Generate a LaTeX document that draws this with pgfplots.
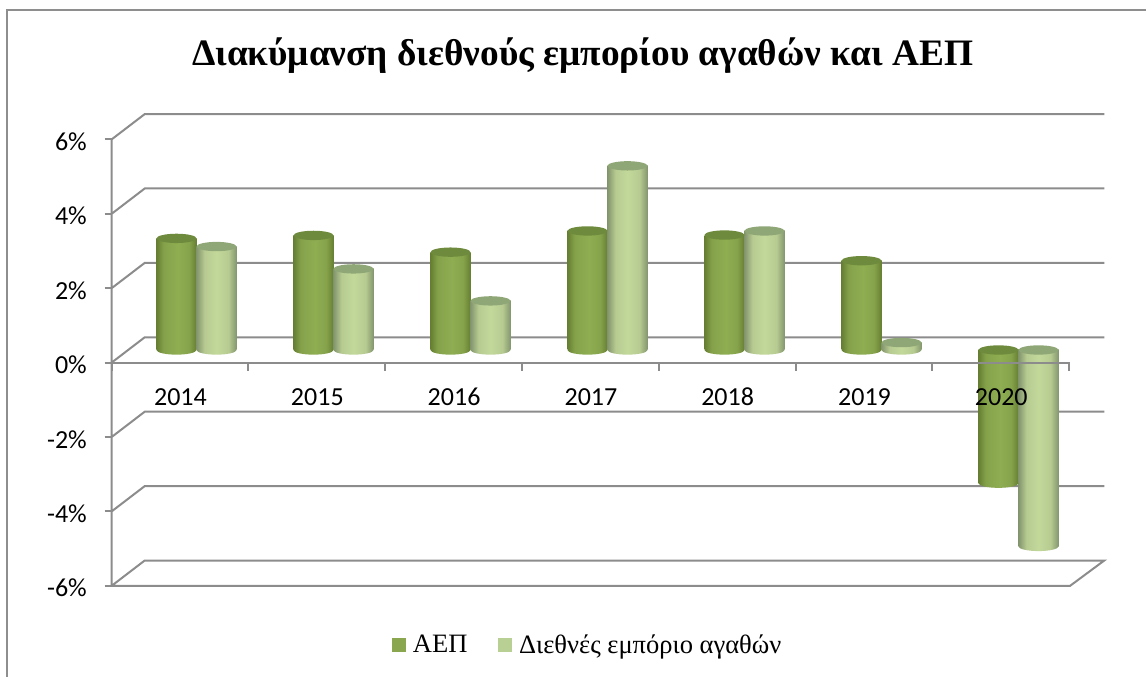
\documentclass[border=0pt]{standalone}
\usepackage{fontspec}
\setmainfont{Carlito}
\newfontfamily\timesfont{Liberation Serif}
\usepackage{pgfplots}
\usepackage{pgfplotstable}
\pgfplotsset{compat=1.18}

\definecolor{gridgray}{HTML}{8C8C8C}
\definecolor{framegray}{HTML}{8E8E8E}
\definecolor{darkside}{HTML}{667F33}
\definecolor{darkmid}{HTML}{8FAE52}
\definecolor{darkcap}{HTML}{6E8A3C}
\definecolor{darkleg}{HTML}{8AA64E}
\definecolor{lightside}{HTML}{84966E}
\definecolor{lightmid}{HTML}{C3D89A}
\definecolor{lightcap}{HTML}{8FA676}
\definecolor{lightleg}{HTML}{B9D094}

\pgfdeclarehorizontalshading{darkcyl}{100bp}{color(0bp)=(darkside); color(25bp)=(darkside); color(34bp)=(darkmid!75!darkside); color(52bp)=(darkmid); color(66bp)=(darkmid!75!darkside); color(75bp)=(darkside); color(100bp)=(darkside)}
\pgfdeclarehorizontalshading{lightcyl}{100bp}{color(0bp)=(lightside); color(25bp)=(lightside); color(35bp)=(lightmid!80!lightside); color(50bp)=(lightmid); color(65bp)=(lightmid!80!lightside); color(75bp)=(lightside); color(100bp)=(lightside)}

% x = category index shifted by half a bar; y in percent, on the plane of the bars
\pgfplotstableread{
x      top    low
-0.146  3.00   0
0.854   3.08   0
1.854   2.63   0
2.854   3.20   0
3.854   3.09   0
4.854   2.40   0
5.854   0     -3.58
}\aep
\pgfplotstableread{
x      top    low
0.146   2.78   0
1.146   2.18   0
2.146   1.32   0
3.146   4.95   0
4.146   3.20   0
5.146   0.20   0
6.146   0     -5.28
}\trade

\pgfdeclareplotmark{darkend}{\path[shading=darkcyl,draw=none,rotate=6] (0pt,0pt) ellipse (15pt and 3.5pt);}
\pgfdeclareplotmark{lightend}{\path[shading=lightcyl,draw=none,rotate=6] (0pt,0pt) ellipse (15pt and 3.5pt);}
\pgfdeclareplotmark{darktop}{\path[fill=darkcap,draw=none,rotate=6] (0pt,0pt) ellipse (15pt and 3.5pt);}
\pgfdeclareplotmark{lighttop}{\path[fill=lightcap,draw=none,rotate=6] (0pt,0pt) ellipse (15pt and 3.5pt);}

% side of a cylinder: style, left x, right x, lower value, upper value
\newcommand{\cyl}[5]{\addplot[shading=#1,draw=none,forget plot] coordinates {(#2,#4)(#2,#5)(#3,#5)(#3,#4)};}

\begin{document}
\begin{tikzpicture}
\begin{scope}[x=0.75pt,y=0.75pt]
\useasboundingbox (0,0) rectangle (1146,677);
\draw[framegray,line width=1.3pt] (6.7,-5) -- (6.7,667) -- (1150,667);
\end{scope}
\begin{axis}[
  at={(96pt,77.85pt)}, anchor=south west,
  scale only axis,
  width=719.25pt, height=334.8pt,
  xmin=-0.5, xmax=6.5, ymin=-6, ymax=6,
  clip=false,
  axis on top,
  axis x line=middle, axis y line=left,
  axis line style={draw=none,-},
  every tick/.style={draw=none},
  major tick length=0pt,
  hide obscured x ticks=false,
  xtick={-0.117,0.882,1.880,2.879,3.877,4.876,5.874},
  xticklabels={2014,2015,2016,2017,2018,2019,2020},
  xticklabel style={font=\fontsize{19.5pt}{22pt}\selectfont,anchor=center,inner sep=0pt,yshift=-35.2pt},
  ytick={-6,-4,-2,0,2,4,6},
  yticklabels={-6\%,-4\%,-2\%,0\%,2\%,4\%,6\%},
  yticklabel style={font=\fontsize{19.5pt}{22pt}\selectfont,anchor=east,inner sep=0pt,xshift=-30.7pt,yshift=-11.2pt},
  tick label style={text=black},
  title={\timesfont\bfseries Διακύμανση διεθνούς εμπορίου αγαθών και ΑΕΠ},
  title style={at={(0.474,1.1425)},anchor=center,font=\fontsize{28pt}{32pt}\selectfont,inner sep=0pt},
  legend columns=2,
  legend style={at={(0.4797,-0.161)},anchor=center,draw=none,fill=none,
    font=\fontsize{19.9pt}{22pt}\selectfont\timesfont,
    /tikz/every even column/.style={column sep=21pt}},
]
% walls: floor/back lines, then the left and bottom edges
\addplot[gridgray,line width=1.5pt,forget plot,unbounded coords=jump] coordinates {
  (-0.62,-6.341)(-0.378,-5.659)(6.626,-5.659)(6.376,-6.341)(-0.62,-6.341)(-0.62,5.659)(-0.378,6.341)(6.626,6.341)
  (0,nan)
  (-0.62,3.659)(-0.378,4.341)(6.626,4.341)
  (0,nan)
  (-0.62,1.659)(-0.378,2.341)(6.626,2.341)
  (0,nan)
  (-0.62,-0.341)(-0.378,0.341)(6.626,0.341)
  (0,nan)
  (-0.62,-2.341)(-0.378,-1.659)(6.626,-1.659)
  (0,nan)
  (-0.62,-4.341)(-0.378,-3.659)(6.626,-3.659)
};
% dark series
\addplot[only marks,mark=darkend,forget plot] table[x=x,y=low] {\aep};
\cyl{darkcyl}{-0.292}{0}{0}{3.00}
\cyl{darkcyl}{0.708}{1}{0}{3.08}
\cyl{darkcyl}{1.708}{2}{0}{2.63}
\cyl{darkcyl}{2.708}{3}{0}{3.20}
\cyl{darkcyl}{3.708}{4}{0}{3.09}
\cyl{darkcyl}{4.708}{5}{0}{2.40}
\cyl{darkcyl}{5.708}{6}{-3.58}{0}
\addplot[only marks,mark=darktop,forget plot] table[x=x,y=top] {\aep};
% light series
\addplot[only marks,mark=lightend,forget plot] table[x=x,y=low] {\trade};
\cyl{lightcyl}{0}{0.292}{0}{2.78}
\cyl{lightcyl}{1}{1.292}{0}{2.18}
\cyl{lightcyl}{2}{2.292}{0}{1.32}
\cyl{lightcyl}{3}{3.292}{0}{4.95}
\cyl{lightcyl}{4}{4.292}{0}{3.20}
\cyl{lightcyl}{5}{5.292}{0}{0.20}
\cyl{lightcyl}{6}{6.292}{-5.28}{0}
\addplot[only marks,mark=lighttop,forget plot] table[x=x,y=top] {\trade};
% front edge of the zero plane and its ticks, over the bars
\addplot[gridgray,line width=1.5pt,forget plot,unbounded coords=jump] coordinates {
  (-0.67,-0.341)(6.376,-0.341)
  (0,nan)
  (-0.62,-0.341)(-0.62,-0.556)
  (0,nan)
  (0.379,-0.341)(0.379,-0.556)
  (0,nan)
  (1.377,-0.341)(1.377,-0.556)
  (0,nan)
  (2.376,-0.341)(2.376,-0.556)
  (0,nan)
  (3.374,-0.341)(3.374,-0.556)
  (0,nan)
  (4.373,-0.341)(4.373,-0.556)
  (0,nan)
  (5.371,-0.341)(5.371,-0.556)
  (0,nan)
  (6.37,-0.341)(6.37,-0.556)
};
% left ticks
\addplot[gridgray,line width=1.5pt,forget plot,unbounded coords=jump] coordinates {
  (-0.67,5.659)(-0.62,5.659)
  (0,nan)
  (-0.67,3.659)(-0.62,3.659)
  (0,nan)
  (-0.67,1.659)(-0.62,1.659)
  (0,nan)
  (-0.67,-2.341)(-0.62,-2.341)
  (0,nan)
  (-0.67,-4.341)(-0.62,-4.341)
  (0,nan)
  (-0.67,-6.341)(-0.62,-6.341)
};
% legend
\addlegendimage{legend image code/.code={\fill[fill=darkleg,draw=none] (0pt,-5.25pt) rectangle (10.5pt,5.25pt); \path (13.5pt,0pt);}}
\addlegendentry{ΑΕΠ}
\addlegendimage{legend image code/.code={\fill[fill=lightleg,draw=none] (0pt,-5.25pt) rectangle (10.5pt,5.25pt); \path (13.5pt,0pt);}}
\addlegendentry{Διεθνές εμπόριο αγαθών}
\end{axis}
\end{tikzpicture}
\end{document}
